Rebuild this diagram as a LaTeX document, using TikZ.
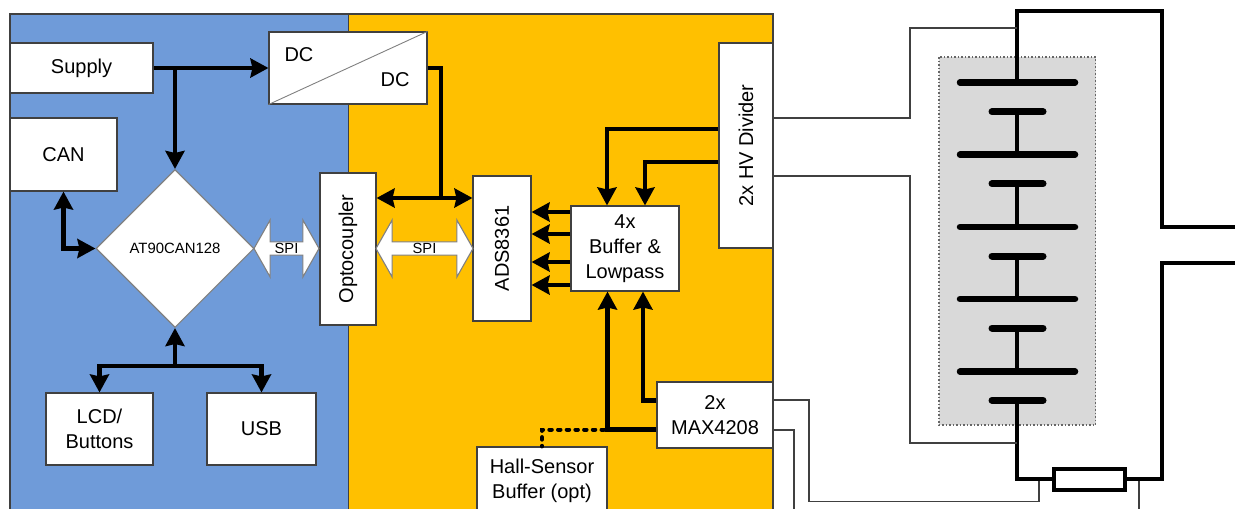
\documentclass[tikz,border=0pt]{standalone}
\usepackage{fontspec}
\setmainfont{Liberation Sans}
\usetikzlibrary{arrows.meta,shapes.geometric,shapes.arrows}
\definecolor{panelblue}{HTML}{6F9BD9}
\definecolor{panelorange}{HTML}{FFC000}
\definecolor{boxline}{HTML}{404040}
\definecolor{cellgray}{HTML}{D9D9D9}
\tikzset{
  x=1pt,y=-1pt,
  blockbox/.style={draw=boxline,line width=1.1pt,fill=white,inner sep=0pt,align=center,
    font=\fontsize{20}{25}\selectfont},
  mcubox/.style={diamond,draw=gray,line width=1.1pt,fill=white,inner sep=0pt,aspect=1,
    minimum width=158pt,minimum height=158pt,font=\fontsize{14.9}{17}\selectfont},
  spiarrow/.style={double arrow,draw=gray,line width=1.1pt,fill=white,inner sep=0pt,
    minimum width=57pt,double arrow head extend=19pt,double arrow tip angle=121,
    double arrow head indent=0pt,font=\fontsize{14.7}{16}\selectfont},
  bigtip/.tip={Stealth[length=18pt,width=19pt,inset=2pt]},
  bus/.style={line width=4.5pt},
  busthin/.style={line width=4pt},
  busto/.style={bus,-{bigtip}},
  busboth/.style={bus,{bigtip}-{bigtip}},
  optbus/.style={line width=4pt,line cap=round,dash pattern=on 2.5pt off 6.2pt},
  thinwire/.style={line width=1.1pt,draw=black!75},
  heavywire/.style={line width=4pt},
  longplate/.style={line width=6.5pt,line cap=round},
  shortplate/.style={line width=7pt,line cap=round},
  cellwire/.style={line width=3.5pt},
}
\begin{document}
\begin{tikzpicture}
\useasboundingbox (0,0) rectangle (1235,509);
\clip (0,0) rectangle (1235,509);
% panels
\fill[panelblue] (10,14) rectangle (348,515);
\fill[panelorange] (348,14) rectangle (773,515);
\draw[boxline,line width=1.2pt] (10,515) -- (10,14) -- (773,14) -- (773,515);
\draw[boxline,line width=1pt] (348,14) -- (348,515);
% boxes
\node[blockbox,minimum width=143pt,minimum height=50pt] (supply) at (81.5,68) {Supply};
\node[blockbox,minimum width=107pt,minimum height=73pt] (can) at (63.5,154.5) {CAN};
\node[mcubox] (mcu) at (175,248.5) {AT90CAN128};
\node[blockbox,minimum width=107pt,minimum height=72pt] (lcd) at (99.5,429) {LCD/\\Buttons};
\node[blockbox,minimum width=109pt,minimum height=72pt] (usb) at (261.5,429) {USB};
\node[blockbox,minimum width=158pt,minimum height=72pt] (dc) at (348,68) {};
\draw[line width=.9pt,draw=gray] (dc.south west) -- (dc.north east);
\node[font=\fontsize{20}{25}\selectfont,inner sep=0pt] (dca) at (299,55) {DC};
\node[font=\fontsize{20}{25}\selectfont,inner sep=0pt] (dcb) at (395,80) {DC};
\node[blockbox,minimum width=56pt,minimum height=152pt] (opto) at (348,249) {\rotatebox{90}{Optocoupler}};
\node[blockbox,minimum width=58pt,minimum height=145pt] (ads) at (502,248.5) {\rotatebox{90}{ADS8361}};
\node[blockbox,minimum width=108pt,minimum height=85pt] (buf) at (625,248.5) {4x\\Buffer \&\\Lowpass};
\node[blockbox,minimum width=54pt,minimum height=205pt] (hv) at (746,145.5) {\rotatebox{90}{2x HV Divider}};
\node[blockbox,minimum width=116pt,minimum height=66pt] (max) at (715,415) {2x\\MAX4208};
\node[blockbox,minimum width=130pt,minimum height=68pt] (hall) at (542,481) {Hall-Sensor\\Buffer (opt)};
% SPI arrows
\node[spiarrow,minimum height=65pt] (spia) at (286.5,248.5) {SPI};
\node[spiarrow,minimum height=97pt] (spib) at (424.5,248.5) {SPI};
% buses
\coordinate (jsup) at (175,68);
\coordinate (jlow) at (175,366);
\coordinate (jpow) at (441,198);
\draw[busto] (supply.east) -- (dc.west);
\draw[busthin,-{bigtip}] (jsup) -- (mcu.north);
\draw[busboth] (can.south) |- (mcu.west);
\draw[busthin,-{bigtip}] (jlow) -- (mcu.south);
\draw[bus,-{bigtip}] (jlow) -| (lcd.north);
\draw[bus,-{bigtip}] (jlow) -| (usb.north);
\draw[bus] (dc.east) -| (jpow);
\draw[busboth] (opto.east |- 0,198) -- (ads.west |- 0,198);
\draw[busto] (hv.west |- 0,129) -| (buf.north -| 607,0);
\draw[busto] (hv.west |- 0,162) -| (buf.north -| 645,0);
\foreach \yy in {212,234,262,285}{
  \draw[busthin,-{bigtip}] (buf.west |- 0,\yy) -- (ads.east |- 0,\yy);
}
\draw[busto] (max.west |- 0,429.5) -| (buf.south -| 607.5,0);
\draw[busto] (max.west |- 0,400.5) -| (buf.south -| 643,0);
\coordinate (jhall) at (604,429.5);
\draw[optbus] (jhall) -| (hall.north);
% battery
\fill[cellgray] (939,57) rectangle (1095.5,425);
\draw[black!60,line width=1.5pt,dotted] (939,57) rectangle (1095.5,425);
\foreach \i/\ys/\yl in {1/111.7/154.7,2/183.7/227,3/256/299,4/328/371.7}{
  \coordinate (sa\i) at (992,\ys); \coordinate (sb\i) at (1043,\ys);
  \coordinate (la\i) at (960,\yl);   \coordinate (lb\i) at (1075,\yl);
  \draw[cellwire] (1017,\ys) -- (1017,\yl);
  \draw[shortplate] (sa\i) -- (sb\i);
  \draw[longplate] (la\i) -- (lb\i);
}
\coordinate (ptop) at (1017,82.5);
\coordinate (pbot) at (1017,400.3);
\draw[longplate] (960,82.5) -- (1075,82.5);
\draw[shortplate] (992,400.3) -- (1043,400.3);
% resistor
\node[draw=black,line width=4pt,fill=white,minimum width=71pt,minimum height=21pt,inner sep=0pt] (shunt) at (1089.5,479) {};
% heavy wiring
\coordinate (outa) at (1235,227);
\coordinate (outb) at (1235,263);
\coordinate (tapa) at (1017,28);
\coordinate (tapb) at (1017,443);
\draw[heavywire] (ptop) -- (1017,11) -- (1161.5,11) -- (1161.5,227) -- (outa);
\draw[heavywire] (pbot) -- (1017,479) -- (shunt.west);
\draw[heavywire] (shunt.east) -- (1161.5,479) -- (1161.5,263) -- (outb);
% thin wiring
\draw[thinwire] (hv.east |- 0,118) -- (910,118) -- (910,28) -- (tapa);
\draw[thinwire] (hv.east |- 0,176) -- (910,176) -- (910,443) -- (tapb);
\draw[thinwire] (max.east |- 0,400) -- (809,400) -- (809,501.5) -- (1039,501.5) -- (1039,481);
\draw[thinwire] (max.east |- 0,430) -- (794,430) -- (794,512);
\draw[thinwire] (1139,481) -- (1139,512);
\end{tikzpicture}
\end{document}
